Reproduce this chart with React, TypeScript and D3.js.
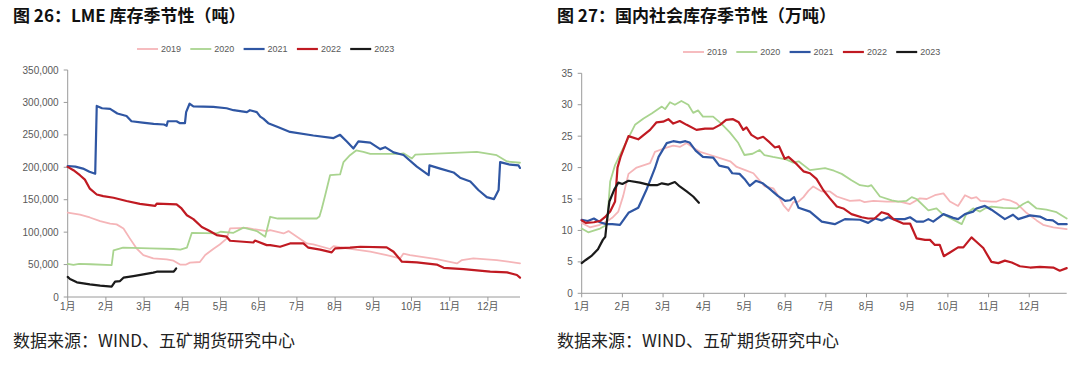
import React from 'react';
import * as d3 from 'd3';

type Pt = [number, number];

const monthLabels = ['1月', '2月', '3月', '4月', '5月', '6月', '7月', '8月', '9月', '10月', '11月', '12月'];
const years = ['2019', '2020', '2021', '2022', '2023'];
const yearColors = ['#F5B5B8', '#A9D48F', '#2F56A3', '#C01A22', '#1A1A1A'];
const yearWidths = [1.8, 1.8, 2.2, 2.2, 2.2];

// x = month position (0 = 1月 start), y = value
const lme2019: Pt[] = [[0, 130000], [0.32, 127000], [0.58, 122600], [0.85, 117000], [1.11, 113000], [1.28, 112000], [1.46, 105700], [1.63, 90000], [1.8, 75000], [1.98, 64700], [2.24, 59500], [2.59, 58000], [2.77, 56000], [2.94, 50000], [3.1, 50000], [3.2, 53000], [3.46, 54000], [3.6, 64700], [3.81, 74000], [3.98, 81000], [4.16, 90000], [4.25, 105700], [4.69, 106700], [4.86, 104700], [5.21, 101600], [5.3, 103000], [5.65, 98000], [5.78, 101600], [6.0, 93000], [6.26, 82600], [6.43, 81000], [6.87, 74000], [6.96, 78500], [7.31, 75000], [7.92, 69800], [8.35, 64700], [8.7, 59500], [8.79, 67000], [8.96, 64700], [9.66, 58500], [10.19, 51800], [10.32, 57000], [10.62, 59500], [11.23, 57000], [11.84, 51800]];
const lme2020: Pt[] = [[0, 51000], [0.15, 49500], [0.3, 51000], [0.6, 50500], [1.15, 49000], [1.2, 72000], [1.45, 76000], [2.15, 75000], [2.77, 74000], [2.95, 73000], [3.12, 76000], [3.25, 99000], [3.9, 98000], [4.0, 100600], [4.34, 99000], [4.6, 107000], [4.95, 101600], [5.17, 93000], [5.3, 123700], [5.5, 121000], [6.52, 121000], [6.59, 124000], [6.65, 136000], [6.74, 157000], [6.87, 188000], [7.13, 189000], [7.22, 208000], [7.39, 218600], [7.55, 226000], [7.74, 223800], [7.92, 220700], [8.7, 220700], [8.79, 221500], [9.01, 213500], [9.1, 219600], [9.66, 221000], [10.27, 222700], [10.71, 223800], [11.23, 218600], [11.5, 209000], [11.84, 207000]];
const lme2021: Pt[] = [[0, 202000], [0.2, 201000], [0.4, 198000], [0.57, 193000], [0.72, 190000], [0.76, 294600], [0.9, 291000], [1.11, 290000], [1.3, 283000], [1.54, 279000], [1.67, 271000], [1.96, 269000], [2.25, 267000], [2.52, 266000], [2.59, 264000], [2.62, 271000], [2.85, 271000], [2.94, 268000], [3.07, 268000], [3.1, 285000], [3.19, 298000], [3.29, 294000], [3.81, 293000], [4.16, 291000], [4.34, 288000], [4.69, 285000], [4.77, 288000], [4.95, 285000], [5.04, 278000], [5.12, 275000], [5.25, 268000], [5.5, 262000], [5.82, 254500], [6.43, 249000], [6.96, 245000], [7.13, 250000], [7.3, 240000], [7.48, 229000], [7.61, 240000], [7.92, 238000], [8.18, 228000], [8.31, 231000], [8.53, 223000], [8.79, 219000], [9.14, 201000], [9.45, 188000], [9.47, 203000], [9.75, 198000], [10.1, 192000], [10.27, 184000], [10.54, 178000], [10.75, 165000], [10.97, 154000], [11.16, 151000], [11.28, 165000], [11.32, 208000], [11.58, 204000], [11.8, 203000], [11.84, 199000]];
const lme2022: Pt[] = [[0, 200700], [0.15, 195500], [0.32, 187800], [0.45, 181000], [0.58, 167000], [0.76, 158000], [0.93, 155500], [1.2, 153000], [1.54, 148000], [1.89, 143700], [2.29, 140600], [2.33, 144000], [2.85, 142700], [2.98, 136500], [3.12, 126000], [3.29, 120000], [3.51, 108000], [3.68, 103000], [3.9, 95500], [4.16, 93000], [4.25, 86700], [4.86, 84000], [4.9, 87000], [5.21, 80000], [5.3, 80000], [5.56, 77500], [5.82, 82600], [6.17, 82600], [6.3, 76000], [6.61, 73000], [6.91, 68800], [7.0, 75000], [7.39, 76000], [7.66, 77500], [8.35, 76500], [8.53, 69800], [8.75, 54400], [9.14, 53400], [9.66, 50000], [9.84, 45000], [10.36, 43000], [11.06, 39000], [11.5, 38000], [11.76, 33900], [11.84, 29800]];
const lme2023: Pt[] = [[0, 31000], [0.06, 27700], [0.24, 22600], [0.58, 19500], [0.85, 17500], [1.15, 16000], [1.24, 23600], [1.37, 24600], [1.46, 29800], [1.72, 32300], [1.98, 35000], [2.24, 37500], [2.33, 39000], [2.77, 39000], [2.81, 41600], [2.84, 44000]];

const soc2019: Pt[] = [[0, 11.2], [0.2, 10.5], [0.45, 10.9], [0.61, 11.4], [0.75, 12.0], [0.9, 13.0], [1.02, 15.5], [1.15, 19.0], [1.35, 20.0], [1.68, 20.7], [1.8, 22.5], [2.0, 23.0], [2.25, 23.5], [2.42, 23.3], [2.58, 23.9], [2.75, 23.1], [2.91, 22.5], [3.16, 22.0], [3.4, 21.5], [3.65, 21.0], [3.81, 20.1], [4.02, 19.6], [4.22, 19.1], [4.39, 17.8], [4.5, 17.0], [4.71, 16.7], [4.84, 15.4], [4.96, 14.0], [5.08, 13.1], [5.2, 14.5], [5.33, 14.6], [5.45, 15.3], [5.57, 16.3], [5.69, 17.0], [5.9, 16.2], [6.1, 16.2], [6.27, 15.4], [6.59, 14.7], [6.84, 14.8], [6.95, 14.5], [7.17, 14.7], [7.49, 14.6], [7.82, 14.6], [8.07, 14.2], [8.31, 15.1], [8.48, 15.0], [8.68, 15.6], [8.89, 15.9], [9.05, 14.6], [9.25, 13.9], [9.42, 15.6], [9.58, 15.1], [9.7, 15.3], [9.8, 14.7], [10.07, 14.6], [10.2, 14.6], [10.36, 15.0], [10.52, 14.8], [10.69, 14.3], [10.93, 12.8], [11.18, 11.6], [11.34, 10.9], [11.59, 10.5], [11.92, 10.2]];
const soc2020: Pt[] = [[0, 10.3], [0.16, 9.7], [0.45, 10.3], [0.62, 10.9], [0.7, 17.8], [0.82, 20.4], [1.02, 23.1], [1.31, 26.8], [1.52, 27.8], [1.72, 28.6], [1.97, 29.7], [2.05, 29.3], [2.17, 30.4], [2.29, 30.0], [2.45, 30.6], [2.62, 30.0], [2.74, 28.7], [2.86, 29.1], [2.98, 28.1], [3.23, 28.1], [3.43, 27.0], [3.64, 25.6], [3.84, 24.0], [4.0, 22.0], [4.2, 22.2], [4.37, 22.8], [4.49, 22.0], [4.7, 21.7], [5.02, 21.3], [5.2, 20.8], [5.33, 21.0], [5.61, 19.6], [5.98, 19.9], [6.2, 19.5], [6.39, 19.0], [6.63, 18.0], [6.84, 17.2], [7.04, 17.0], [7.12, 17.2], [7.33, 15.4], [7.62, 14.8], [7.78, 14.6], [7.98, 14.7], [8.11, 15.3], [8.23, 15.0], [8.52, 13.2], [8.72, 13.5], [8.85, 12.7], [9.05, 12.0], [9.34, 11.0], [9.46, 12.7], [9.62, 13.5], [9.79, 13.0], [9.91, 13.5], [10.07, 13.8], [10.36, 13.6], [10.69, 13.5], [10.85, 14.2], [10.97, 14.6], [11.18, 13.5], [11.42, 13.3], [11.67, 12.9], [11.92, 11.9]];
const soc2021: Pt[] = [[0, 11.7], [0.15, 11.5], [0.3, 11.9], [0.45, 11.3], [0.6, 11.0], [0.75, 11.0], [0.94, 10.9], [1.15, 12.8], [1.39, 13.6], [1.6, 16.6], [1.8, 19.9], [1.89, 21.7], [2.09, 23.9], [2.25, 24.2], [2.42, 24.0], [2.55, 24.2], [2.65, 24.0], [2.8, 22.7], [2.98, 21.7], [3.23, 21.6], [3.38, 20.3], [3.6, 20.0], [3.7, 19.1], [3.88, 19.0], [4.0, 18.2], [4.13, 17.1], [4.28, 17.9], [4.45, 17.5], [4.62, 16.6], [4.82, 15.5], [5.0, 14.7], [5.12, 14.8], [5.22, 15.3], [5.33, 13.6], [5.61, 13.0], [5.9, 11.4], [6.22, 11.0], [6.47, 11.8], [6.84, 11.7], [7.04, 11.2], [7.21, 11.9], [7.37, 11.6], [7.53, 12.1], [7.66, 11.8], [7.94, 11.8], [8.07, 12.1], [8.23, 11.4], [8.4, 11.4], [8.52, 11.8], [8.64, 11.4], [8.89, 12.6], [9.13, 12.0], [9.25, 11.8], [9.42, 12.6], [9.62, 13.0], [9.7, 13.5], [9.91, 13.9], [10.07, 13.3], [10.4, 11.8], [10.6, 12.5], [10.73, 11.8], [11.02, 12.4], [11.26, 12.2], [11.42, 11.7], [11.58, 11.6], [11.71, 11.0], [11.92, 11.0]];
const soc2022: Pt[] = [[0, 11.6], [0.1, 11.2], [0.3, 11.3], [0.45, 11.5], [0.57, 12.1], [0.7, 13.0], [0.82, 14.6], [0.88, 20.0], [0.96, 21.8], [1.15, 25.0], [1.39, 24.5], [1.68, 26.0], [1.84, 27.2], [2.0, 27.3], [2.13, 27.7], [2.25, 27.0], [2.41, 27.4], [2.58, 26.8], [2.82, 26.0], [3.03, 26.2], [3.23, 26.2], [3.4, 26.8], [3.55, 27.6], [3.72, 27.7], [3.86, 27.2], [3.97, 26.0], [4.05, 26.4], [4.17, 25.2], [4.32, 24.6], [4.46, 24.9], [4.62, 24.0], [4.75, 23.2], [4.85, 23.4], [4.99, 21.4], [5.08, 21.7], [5.29, 20.5], [5.45, 19.4], [5.61, 19.1], [5.77, 18.2], [5.94, 16.4], [6.1, 15.1], [6.27, 13.8], [6.43, 13.5], [6.63, 12.6], [6.88, 12.1], [7.04, 11.9], [7.2, 11.9], [7.37, 12.9], [7.53, 12.6], [7.66, 11.8], [7.9, 11.1], [8.07, 11.1], [8.23, 8.75], [8.44, 8.5], [8.56, 8.5], [8.68, 7.7], [8.8, 7.7], [8.9, 5.9], [9.05, 6.5], [9.25, 7.3], [9.38, 7.3], [9.58, 8.9], [9.7, 8.2], [9.87, 7.2], [10.07, 5.0], [10.24, 4.8], [10.4, 5.2], [10.57, 4.9], [10.77, 4.3], [11.02, 4.1], [11.26, 4.2], [11.59, 4.1], [11.75, 3.6], [11.92, 4.0]];
const soc2023: Pt[] = [[0, 4.8], [0.1, 5.3], [0.25, 6.0], [0.4, 7.0], [0.52, 8.5], [0.58, 9.0], [0.62, 11.5], [0.68, 14.6], [0.8, 16.5], [0.9, 17.6], [1.0, 17.4], [1.15, 17.9], [1.43, 17.6], [1.68, 17.2], [1.85, 17.2], [1.97, 17.5], [2.13, 17.3], [2.29, 17.7], [2.41, 17.0], [2.58, 16.2], [2.74, 15.4], [2.88, 14.4]];

const lmeYTicks = [0, 50000, 100000, 150000, 200000, 250000, 300000, 350000];
const socYTicks = [0, 5, 10, 15, 20, 25, 30, 35];

const AXIS = '#9a9a9a';
const LABEL = '#595959';
const NUMFONT = '"Liberation Sans", Arial, "Noto Sans CJK SC", sans-serif';
const CJKFONT = '"Noto Sans CJK SC", sans-serif';

interface ChartProps {
  title: string;
  footer: string;
  titleX: number;
  series: Pt[][];
  xRange: [number, number];
  xMax: number;
  yRange: [number, number];
  yMax: number;
  yTicks: number[];
  yFormat: (v: number) => string;
  legendX: number;
  legendY: number;
}

function Chart(p: ChartProps) {
  const x = d3.scaleLinear().domain([0, p.xMax]).range(p.xRange);
  const y = d3.scaleLinear().domain([0, p.yMax]).range(p.yRange);
  const line = d3.line<Pt>().x(d => x(d[0])).y(d => y(d[1]));
  const [x0, x1] = p.xRange;
  const [yb, yt] = p.yRange;
  return (
    <g>
      <text x={p.titleX} y={22} fontFamily={CJKFONT} fontWeight="bold" fontSize={17} fill="#111">{p.title}</text>
      <text x={p.titleX} y={347} fontFamily={CJKFONT} fontSize={17} fill="#222">{p.footer}</text>
      {/* legend */}
      {years.map((yr, i) => {
        const lx = p.legendX + i * 53.3;
        return (
          <g key={yr}>
            <line x1={lx} x2={lx + 21} y1={p.legendY} y2={p.legendY} stroke={yearColors[i]} strokeWidth={yearWidths[i]} />
            <text x={lx + 24} y={p.legendY + 3.3} fontFamily={NUMFONT} fontSize={9} fill={LABEL}>{yr}</text>
          </g>
        );
      })}
      {/* axes */}
      <line x1={x0} x2={x0} y1={yt} y2={yb} stroke={AXIS} strokeWidth={1} />
      <line x1={x0} x2={x1} y1={yb} y2={yb} stroke={AXIS} strokeWidth={1} />
      {p.yTicks.map(t => (
        <g key={t}>
          <line x1={x0 - 4} x2={x0} y1={y(t)} y2={y(t)} stroke={AXIS} strokeWidth={1} />
          <text x={x0 - 9} y={y(t) + 3.5} textAnchor="end" fontFamily={NUMFONT} fontSize={10} fill={LABEL}>{p.yFormat(t)}</text>
        </g>
      ))}
      {monthLabels.map((m, i) => (
        <g key={m}>
          <line x1={x(i)} x2={x(i)} y1={yb} y2={yb + 4} stroke={AXIS} strokeWidth={1} />
          <text x={x(i)} y={310} textAnchor="middle" fontFamily={NUMFONT} fontSize={10} fill={LABEL}>{m}</text>
        </g>
      ))}
      {p.series.map((s, i) => (
        <path key={i} d={line(s) || ''} fill="none" stroke={yearColors[i]} strokeWidth={yearWidths[i]} strokeLinejoin="round" strokeLinecap="round" />
      ))}
    </g>
  );
}

export default function App() {
  const fmt = d3.format(',');
  return (
    <svg width={1080} height={368} style={{ position: 'absolute', left: 0, top: 0, background: '#fff' }}>
      <rect width={1080} height={368} fill="#fff" />
      <Chart
        title="图 26：LME 库存季节性（吨）"
        footer="数据来源：WIND、五矿期货研究中心"
        titleX={13}
        series={[lme2019, lme2020, lme2021, lme2022, lme2023]}
        xRange={[67.7, 520]}
        xMax={11.84}
        yRange={[297, 70]}
        yMax={350000}
        yTicks={lmeYTicks}
        yFormat={v => fmt(v)}
        legendX={137}
        legendY={49}
      />
      <Chart
        title="图 27：国内社会库存季节性（万吨）"
        footer="数据来源：WIND、五矿期货研究中心"
        titleX={557}
        series={[soc2019, soc2020, soc2021, soc2022, soc2023]}
        xRange={[581.7, 1066.7]}
        xMax={11.92}
        yRange={[293.3, 73.3]}
        yMax={35}
        yTicks={socYTicks}
        yFormat={v => String(v)}
        legendX={683}
        legendY={52}
      />
    </svg>
  );
}
